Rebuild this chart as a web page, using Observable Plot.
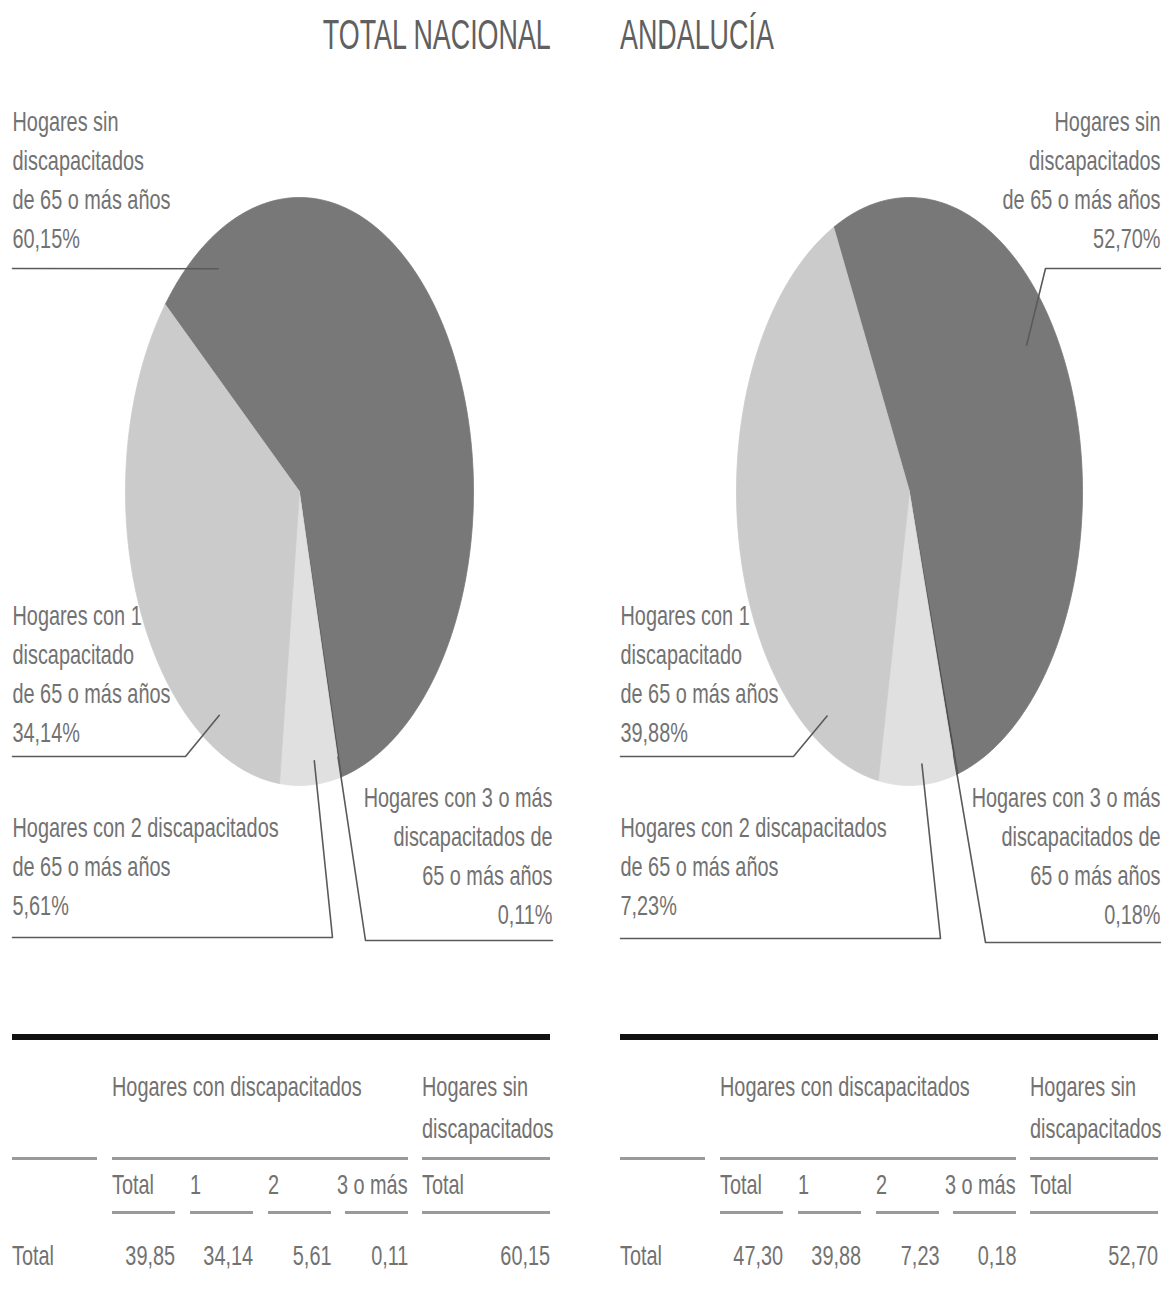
<!DOCTYPE html>
<html>
<head>
<meta charset="utf-8">
<script src="https://cdn.jsdelivr.net/npm/d3@7"></script>
<script src="https://cdn.jsdelivr.net/npm/@observablehq/plot@0.6"></script>
<style>
  html, body { margin: 0; padding: 0; background: #fff; }
  #page { position: relative; width: 1161px; height: 1290px; overflow: hidden;
          font-family: "Liberation Sans", Arial, sans-serif; color: #727272; }
  .t { position: absolute; white-space: nowrap; line-height: 1; }
  .rule { position: absolute; }
  .panel { position: absolute; top: 0; }
</style>
</head>
<body>
<div id="page"></div>
<script>
// ---------------- DATA ----------------
const panelTitles = ["TOTAL NACIONAL", "ANDALUCÍA"];
const sliceKeys = ["sin", "tres", "dos", "uno"];           // clockwise order of the slices
const nacionalValues = [60.15, 0.11, 5.61, 34.14];        // % hogares: sin, 3 o más, 2, 1
const andaluciaValues = [52.70, 0.18, 7.23, 39.88];
const nacionalTotalCon = 39.85;                           // % hogares con discapacitados
const andaluciaTotalCon = 47.30;
const labelLines = {
  sin:  ["Hogares sin", "discapacitados", "de 65 o más años"],
  uno:  ["Hogares con 1", "discapacitado", "de 65 o más años"],
  dos:  ["Hogares con 2 discapacitados", "de 65 o más años"],
  tres: ["Hogares con 3 o más", "discapacitados de", "65 o más años"]
};
const tableGroupHeads = ["Hogares con discapacitados", "Hogares sin", "discapacitados"];
const tableColHeads = ["Total", "1", "2", "3 o más", "Total"];
const tableRowLabel = "Total";

// ---------------- STYLE / LAYOUT ----------------
const FONT = '"Liberation Sans", Arial, sans-serif';
const TEXT_COLOR = "#727272";
const sliceColors = {sin: "#787878", tres: "#4a4a4a", dos: "#e0e0e0", uno: "#cbcbcb"};
const FS = 28, SQUASH = 0.71, LINE = 39;
const fmt = d3.formatLocale({decimal: ",", thousands: ".", grouping: [3], currency: ["", " €"]}).format(".2f");

const panels = [
  {
    title: panelTitles[0], values: nacionalValues, totalCon: nacionalTotalCon,
    offset: 0, width: 580, cx: 299, cy: 491, rx: 174, ry: 294, start: -50.5,
    anchors: {sin: [0.087, 0.89], tres: [0.5, 0.93], dos: [0.41, 0.92], uno: [0.2, 0.89]},
    labels: {sin: [12, 103, "start"], uno: [12, 597, "start"], dos: [12, 809, "start"], tres: [552, 779, "end"]},
    leaders: {sin: [[12, 268]], uno: [[12, 756], [185, 756]], dos: [[12, 937], [332, 937]], tres: [[552, 940], [365, 940]]},
    tableX: 12
  },
  {
    title: panelTitles[1], values: andaluciaValues, totalCon: andaluciaTotalCon,
    offset: 580, width: 581, cx: 329, cy: 491, rx: 173, ry: 294, start: -26,
    anchors: {sin: [0.42, 0.84], tres: [0.5, 0.93], dos: [0.43, 0.93], uno: [0.15, 0.9]},
    labels: {sin: [1160, 103, "end"], uno: [620, 597, "start"], dos: [620, 809, "start"], tres: [1160, 779, "end"]},
    leaders: {sin: [[1160, 268], [1045, 268]], uno: [[620, 756], [793, 756]], dos: [[620, 938], [940, 938]], tres: [[1160, 942], [985, 942]]},
    tableX: 620
  }
];

const page = document.getElementById("page");

function htmlText(str, x, capTop, anchor, fs = FS, squash = SQUASH, color = TEXT_COLOR) {
  const d = document.createElement("div");
  d.className = "t";
  d.textContent = str;
  d.style.fontSize = fs + "px";
  d.style.color = color;
  const capOffset = fs * 0.13;
  d.style.top = (capTop - capOffset) + "px";
  if (anchor === "end") {
    d.style.right = (1161 - x) + "px";
    d.style.transformOrigin = "right center";
  } else {
    d.style.left = x + "px";
    d.style.transformOrigin = "left center";
  }
  d.style.transform = `scaleX(${squash})`;
  page.appendChild(d);
}
function htmlRule(x1, x2, y, h, color) {
  const d = document.createElement("div");
  d.className = "rule";
  d.style.left = x1 + "px"; d.style.width = (x2 - x1) + "px";
  d.style.top = (y - h / 2) + "px"; d.style.height = h + "px";
  d.style.background = color;
  page.appendChild(d);
}

// Titles
htmlText(panelTitles[0], 551, 19, "end", 43, 0.625, "#606060");
htmlText(panelTitles[1], 620, 19, "start", 43, 0.625, "#606060");

panels.forEach(p => {
  const total = d3.sum(p.values);
  const toX = px => ((px - p.offset) - p.cx) / p.rx;
  const toY = py => (py - p.cy) / p.ry;

  // slices
  let a = p.start;
  const slices = [];
  const anchorPts = {};
  p.values.forEach((v, i) => {
    const key = sliceKeys[i];
    const span = v / total * 360;
    const a0 = a, a1 = a + span;
    const pts = [{key, x: 0, y: 0}];
    const n = Math.max(2, Math.ceil(span));
    for (let k = 0; k <= n; k++) {
      const t = (a0 + (a1 - a0) * k / n) * Math.PI / 180;
      pts.push({key, x: Math.sin(t), y: -Math.cos(t)});
    }
    pts.push({key, x: 0, y: 0});
    slices.push({key, pts, value: v});
    const [f, r] = p.anchors[key];
    const ta = (a0 + f * span) * Math.PI / 180;
    anchorPts[key] = {x: r * Math.sin(ta), y: -r * Math.cos(ta)};
    a = a1;
  });

  // leaders
  const leaderPts = [];
  sliceKeys.forEach(key => {
    p.leaders[key].forEach(([px, py]) => leaderPts.push({key, x: toX(px), y: toY(py)}));
    leaderPts.push({key, ...anchorPts[key]});
  });

  // labels
  const labelData = sliceKeys.map((key, i) => {
    const [px, py, anchor] = p.labels[key];
    return {key, anchor, x: toX(px), y: toY(py),
            text: labelLines[key].concat([fmt(p.values[i]) + "%"]).join("\n")};
  });

  const marks = [];
  slices.forEach(s => marks.push(Plot.line(s.pts, {x: "x", y: "y", fill: sliceColors[s.key], stroke: sliceColors[s.key], strokeWidth: 0.8, curve: "linear"})));
  marks.push(Plot.line(leaderPts, {x: "x", y: "y", z: "key", stroke: "#5a5a5a", strokeWidth: 1.6}));
  ["start", "end"].forEach(anc => {
    marks.push(Plot.text(labelData.filter(d => d.anchor === anc), {
      x: "x", y: "y", text: "text", textAnchor: anc, lineAnchor: "top",
      lineHeight: LINE / FS, fontSize: FS, fill: TEXT_COLOR
    }));
  });

  const chart = Plot.plot({
    width: p.width, height: 1000,
    marginTop: 0, marginBottom: 0, marginLeft: 0, marginRight: 0,
    x: {domain: [-1, 1], range: [p.cx - p.rx, p.cx + p.rx], axis: null},
    y: {domain: [-1, 1], range: [p.cy - p.ry, p.cy + p.ry], axis: null},
    style: {fontFamily: FONT, background: "transparent", overflow: "visible"},
    marks
  });
  chart.querySelectorAll("text").forEach(t => {
    const tr = t.getAttribute("transform") || "";
    t.setAttribute("transform", tr + ` scale(${SQUASH},1)`);
  });
  chart.classList.add("panel");
  chart.style.left = p.offset + "px";
  page.appendChild(chart);

  // ---------------- TABLE ----------------
  const x0 = p.tableX;
  htmlRule(x0, x0 + 538, 1037, 6, "#111");
  htmlText(tableGroupHeads[0], x0 + 100, 1077, "start");
  htmlText(tableGroupHeads[1], x0 + 410, 1077, "start");
  htmlText(tableGroupHeads[2], x0 + 410, 1119, "start");
  [[0, 85], [100, 396], [410, 538]].forEach(([a1, a2]) => htmlRule(x0 + a1, x0 + a2, 1158, 3, "#9a9a9a"));
  const colLeft = [100, 178, 256, 333, 410];
  const colRight = [163, 241, 319, 396, 538];
  tableColHeads.forEach((h, i) => {
    if (i === 3) htmlText(h, x0 + colRight[i], 1175, "end");
    else htmlText(h, x0 + colLeft[i], 1175, "start");
  });
  colLeft.forEach((l, i) => htmlRule(x0 + l, x0 + colRight[i], 1212, 3, "#9a9a9a"));
  htmlText(tableRowLabel, x0, 1246, "start");
  const rowVals = [p.totalCon, p.values[3], p.values[2], p.values[1], p.values[0]];
  rowVals.forEach((v, i) => htmlText(fmt(v), x0 + colRight[i], 1246, "end"));
});
</script>
</body>
</html>
